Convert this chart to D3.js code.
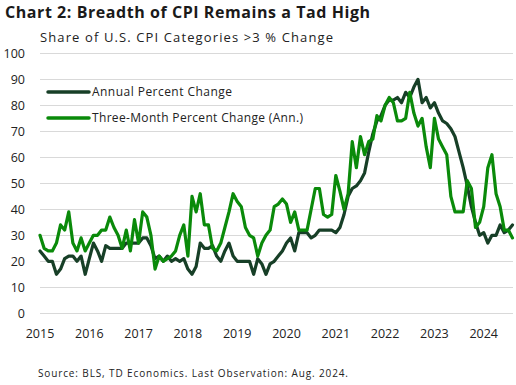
<!DOCTYPE html>
<html><head><meta charset="utf-8">
<script src="https://cdn.jsdelivr.net/npm/d3@7"></script>
<style>
html,body{margin:0;padding:0;background:#fff;}
text{font-family:"Open Sans",Lato,sans-serif;}
</style></head>
<body><svg id="c" width="516" height="385"></svg>
<script>
const startYear = 2015;
const yearTicks = [2015,2016,2017,2018,2019,2020,2021,2022,2023,2024];
const yTicks = [0,10,20,30,40,50,60,70,80,90,100];
const seriesNames = ["Annual Percent Change","Three-Month Percent Change (Ann.)"];
// monthly, Jan 2015 - Aug 2024
const annual = [
24,22,20,20,15,17,21,22,22,20,22,15,
21,27,24,20,26,25,25,25,25,27,27,27,
27,29,29,26,21,22,20,22,20,21,20,21,
17,15,18,27,25,25,26,22,20,24,27,22,
20,20,20,20,15,21,19,15,19,20,22,24,
27,29,24,31,31,31,29,30,32,32,32,32,
31,33,38,45,48,49,51,54,62,69,74,76,
80,82,82,83,81,85,83,87,90,81,83,79,
81,77,74,73,71,68,62,56,49,41,35,30,
31,27,30,30,34,31,32,34];
const threeMonth = [
30,25,24,24,27,34,32,39,27,24,29,24,
27,30,30,32,32,37,33,30,25,32,24,36,
27,39,37,30,17,22,20,21,22,24,30,34,
22,45,39,46,34,34,25,24,27,33,39,46,
43,41,33,30,29,22,27,30,32,41,42,44,
42,35,39,32,32,32,40,48,48,38,37,38,
53,47,40,46,66,56,68,61,66,67,76,74,
80,83,81,74,74,75,85,77,72,75,64,56,
75,67,64,61,45,39,39,39,51,48,33,35,
41,56,61,46,41,32,32,29];
const colors = ["#173f27","#0a8a0a"];

const svg = d3.select("#c");
const x = d3.scaleLinear().domain([2015, 2024.6]).range([40, 513.3]);
const y = d3.scaleLinear().domain([0, 100]).range([313.3, 53.3]);

svg.append("g").selectAll("line").data(yTicks).join("line")
  .attr("x1", 40).attr("x2", 513).attr("y1", d=>Math.round(y(d))+0.5).attr("y2", d=>Math.round(y(d))+0.5)
  .attr("stroke", "#d9d9d9").attr("stroke-width", 1);

svg.append("g").selectAll("text").data(yTicks).join("text")
  .attr("x", 25).attr("y", d=>y(d)).attr("dy","0.35em").attr("text-anchor","end")
  .attr("font-size", 12.5).attr("fill","#222").text(d=>d);

svg.append("g").selectAll("text").data(yearTicks).join("text")
  .attr("x", d=>x(d)).attr("y", 338).attr("text-anchor","middle")
  .attr("font-size", 12.5).attr("fill","#222").text(d=>d);

const line = d3.line().x((d,i)=>x(startYear + i/12)).y(d=>y(d));
[annual, threeMonth].forEach((s,k)=>{
  svg.append("path").datum(s).attr("d", line).attr("fill","none")
    .attr("stroke", colors[k]).attr("stroke-width", 3.2).attr("stroke-linejoin","round").attr("stroke-linecap","round");
});

const legendW = [140, 211];
seriesNames.forEach((n,k)=>{
  const ly = 92 + k*26;
  svg.append("line").attr("x1",48).attr("x2",89).attr("y1",ly).attr("y2",ly)
    .attr("stroke",colors[k]).attr("stroke-width",3.5).attr("stroke-linecap","round");
  svg.append("text").attr("x",92).attr("y",ly).attr("dy","0.35em").attr("font-size",12)
    .attr("textLength",legendW[k]).attr("lengthAdjust","spacing").attr("fill","#222").text(n);
});

svg.append("text").attr("x",5).attr("y",18).attr("font-size",16).attr("font-weight","bold").attr("fill","#1a1a1a")
  .attr("textLength",365).attr("lengthAdjust","spacing")
  .text("Chart 2: Breadth of CPI Remains a Tad High");
svg.append("text").attr("x",40).attr("y",42).attr("font-size",13).attr("fill","#222")
  .attr("textLength",293).attr("lengthAdjust","spacing")
  .text("Share of U.S. CPI Categories >3 % Change");
svg.append("text").attr("x",38).attr("y",377).attr("font-size",10).attr("fill","#222")
  .attr("textLength",310).attr("lengthAdjust","spacing")
  .text("Source: BLS, TD Economics. Last Observation: Aug. 2024.");
</script></body></html>
